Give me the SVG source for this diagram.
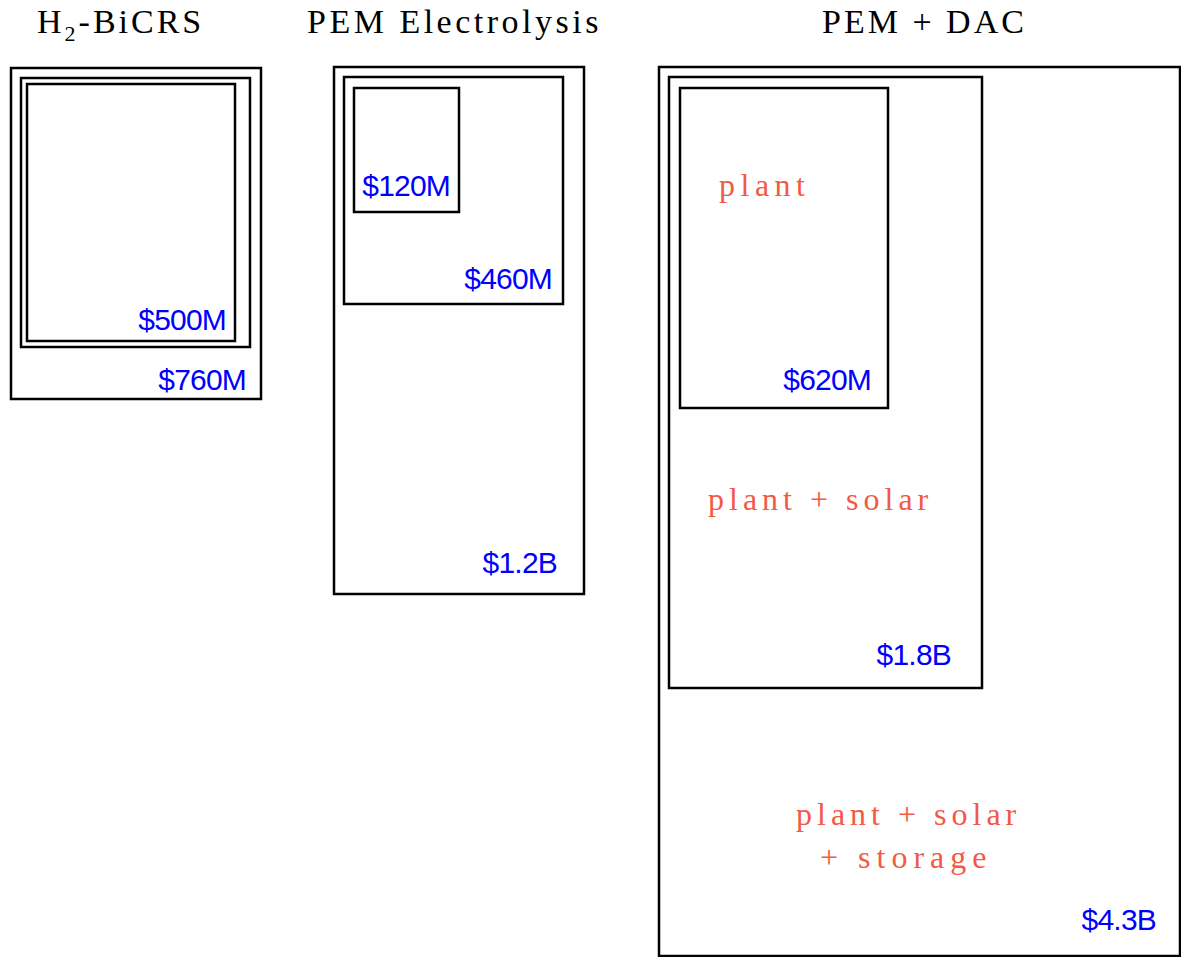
<svg xmlns="http://www.w3.org/2000/svg" width="1181" height="957" viewBox="0 0 1181 957">
  <style>
    .box { fill: none; stroke: #000; stroke-width: 2.5; }
    .title { font-family: "Liberation Serif", "Times New Roman", serif; font-size: 34px; letter-spacing: 3px; fill: #000; }
    .cost { font-family: "Liberation Sans", Arial, sans-serif; font-size: 30px; letter-spacing: -0.8px; fill: #0000ff; text-anchor: end; }
    .tag { font-family: "Liberation Serif", "Times New Roman", serif; font-size: 32px; letter-spacing: 5px; fill: #f25a46; }
  </style>
  <rect width="1181" height="957" fill="#fff"/>

  <!-- column titles -->
  <g id="titles">
    <text class="title" x="37" y="33">H<tspan font-size="22" dy="8">2</tspan><tspan dy="-8">-BiCRS</tspan></text>
    <text class="title" x="307" y="33" style="letter-spacing:3.5px">PEM Electrolysis</text>
    <text class="title" x="822" y="33">PEM + DAC</text>
  </g>

  <!-- H2-BiCRS -->
  <g id="bicrs-760">
    <rect class="box" x="11" y="68" width="250" height="331"/>
    <text class="cost" x="246" y="390">$760M</text>
  </g>
  <g id="bicrs-mid">
    <rect class="box" x="21" y="78" width="229" height="269"/>
  </g>
  <g id="bicrs-500">
    <rect class="box" x="27" y="84" width="208" height="257"/>
    <text class="cost" x="226" y="330">$500M</text>
  </g>

  <!-- PEM Electrolysis -->
  <g id="pem-1200">
    <rect class="box" x="334" y="67" width="250" height="527"/>
    <text class="cost" x="557" y="573">$1.2B</text>
  </g>
  <g id="pem-460">
    <rect class="box" x="344" y="77" width="219" height="227"/>
    <text class="cost" x="552" y="289">$460M</text>
  </g>
  <g id="pem-120">
    <rect class="box" x="354" y="88" width="105" height="124"/>
    <text class="cost" x="450" y="196">$120M</text>
  </g>

  <!-- PEM + DAC -->
  <g id="dac-4300">
    <rect class="box" x="659" y="67" width="521" height="889"/>
    <text class="tag" x="796" y="825">plant + solar</text>
    <text class="tag" x="820" y="868" style="letter-spacing:6px">+ storage</text>
    <text class="cost" x="1156" y="930">$4.3B</text>
  </g>
  <g id="dac-1800">
    <rect class="box" x="669" y="77" width="313" height="611"/>
    <text class="tag" x="708" y="510">plant + solar</text>
    <text class="cost" x="951" y="665">$1.8B</text>
  </g>
  <g id="dac-620">
    <rect class="box" x="680" y="88" width="208" height="320"/>
    <text class="tag" x="719" y="196" style="letter-spacing:5.5px">plant</text>
    <text class="cost" x="871" y="390">$620M</text>
  </g>

  <g id="connectors"/>
</svg>
